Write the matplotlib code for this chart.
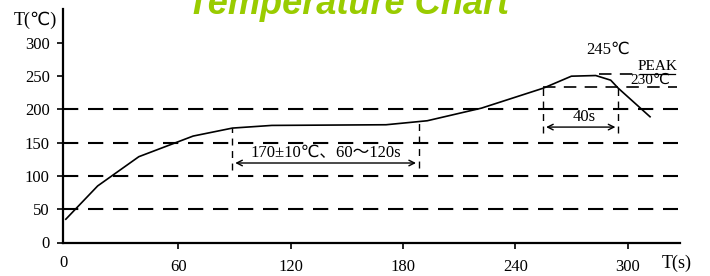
import matplotlib.pyplot as plt

plt.rcParams['lines.scale_dashes'] = False

# reflow profile
time_s = [0, 17, 39, 68, 89, 110, 171, 193, 222, 255, 270, 283, 291, 295, 312]
temp_c = [35, 85, 129, 160, 172, 176, 177, 183, 202, 232, 250, 251, 244, 232, 189]

grid_levels = [50, 100, 150, 200]
x_ticks = [60, 120, 180, 240, 300]
y_ticks = [0, 50, 100, 150, 200, 250, 300]

soak_start, soak_end = 89, 188.5
peak_start, peak_end = 255, 295
liquidus = 233
peak_level = 253

serif = ['Liberation Serif', 'DejaVu Sans', 'Noto Sans CJK SC']

fig = plt.figure(figsize=(7.1, 2.76), dpi=100)
ax = fig.add_axes([63 / 710, 33.5 / 276, 617 / 710, 233.5 / 276])

ax.plot(time_s, temp_c, color='black', lw=1.2)

for lvl in grid_levels:
    ax.plot([-1.5, 327], [lvl, lvl], color='black', lw=1.5,
            dashes=(11, 7), clip_on=False)

# soak zone markers
ax.plot([soak_start, soak_start], [109, 172], color='black', lw=1, dashes=(5, 4))
ax.plot([soak_end, soak_end], [112, 183], color='black', lw=1, dashes=(5, 4))
ax.annotate('', xy=(soak_start, 119.5), xytext=(soak_end, 119.5),
            arrowprops=dict(arrowstyle='<->', lw=1, color='black'))
ax.text((soak_start + soak_end) / 2, 123, '170±10℃、60～120s', family=serif,
        fontsize=12, ha='center', va='bottom')

# time above liquidus
ax.plot([peak_start, 326.5], [liquidus, liquidus], color='black', lw=1.2,
        dashes=(9, 6), clip_on=False)
ax.plot([285, 303], [peak_level, peak_level], color='black', lw=1.2, dashes=(9, 6))
ax.plot([306.5, 325.5], [peak_level, peak_level], color='black', lw=0.9, clip_on=False)
for t in (peak_start, peak_end):
    ax.plot([t, t], [164.5, liquidus], color='black', lw=1, dashes=(5, 4))
ax.annotate('', xy=(peak_start, 173.5), xytext=(peak_end, 173.5),
            arrowprops=dict(arrowstyle='<->', lw=1, color='black'))
ax.text(277, 177, '40s', family=serif, fontsize=12, ha='center', va='bottom')
ax.text(289.5, 289, '245℃', family=serif, fontsize=12, ha='center', va='center')
ax.text(316, 255, 'PEAK', family=serif, fontsize=11, ha='center', va='bottom',
        clip_on=False)
ax.text(312, 234.5, '230℃', family=serif, fontsize=11, ha='center', va='bottom',
        clip_on=False)

ax.set_xlim(-1.5, 328)
ax.set_ylim(0, 351)
ax.set_xticks(x_ticks)
ax.set_xticklabels([str(v) for v in x_ticks], family=serif, fontsize=12)
ax.set_yticks(y_ticks)
ax.set_yticklabels([str(v) for v in y_ticks], family=serif, fontsize=12)
ax.tick_params(axis='x', length=4, width=1.2, pad=8)
ax.tick_params(axis='y', length=4.5, width=1.2, pad=5)
ax.text(-1, -31, '0', family=serif, fontsize=12, ha='center', va='center',
        clip_on=False)
ax.text(326, -31, 'T(s)', family=serif, fontsize=13, ha='center', va='center',
        clip_on=False)
ax.text(-16.5, 334, 'T(℃)', family=serif, fontsize=13, ha='center', va='center',
        clip_on=False)

for side in ('top', 'right'):
    ax.spines[side].set_visible(False)
for side in ('left', 'bottom'):
    ax.spines[side].set_linewidth(1.6)

fig.text(348 / 710, 262 / 276, 'Temperature Chart', family='Liberation Sans',
         fontsize=26, fontweight='bold', fontstyle='italic', color='#99cc00',
         ha='center', va='baseline')

fig.savefig('out.png', dpi=100)
